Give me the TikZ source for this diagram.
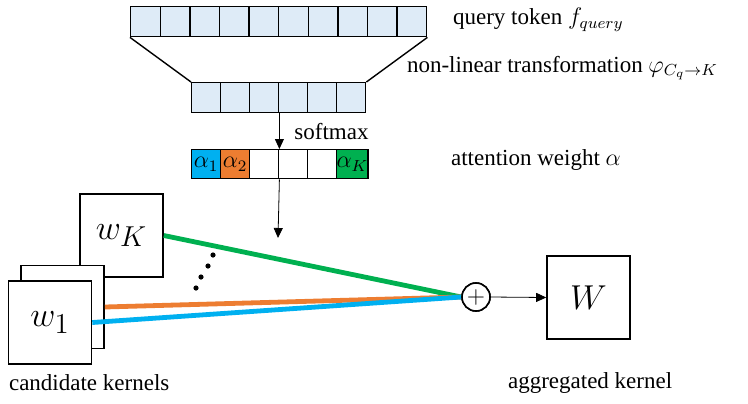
\documentclass[tikz,border=0pt]{standalone}
\usepackage{amsmath}
\usepackage{fontspec}
\setmainfont{Liberation Serif}
\usepackage{tikz}
\usetikzlibrary{arrows.meta,positioning,calc}
\usepackage{xcolor}
\definecolor{cellblue}{RGB}{222,235,247}
\definecolor{alphablue}{RGB}{0,176,240}
\definecolor{alphaorange}{RGB}{237,125,49}
\definecolor{alphagreen}{RGB}{0,176,80}

\begin{document}
\begin{tikzpicture}[x=0.5pt,y=0.5pt,font=\fontsize{11.5}{13}\selectfont,>={Triangle[length=5pt,width=4.5pt]},
  cell/.style={draw,line width=0.7pt,minimum width=14.5pt,minimum height=15pt,inner sep=0pt,anchor=north west,fill=cellblue},
  kernel/.style={draw,line width=0.8pt,fill=white,minimum size=41.5pt,inner sep=0pt,font=\fontsize{19}{21}\selectfont},
  mix/.style={line width=2.4pt}]
  \useasboundingbox (0,0) rectangle (748,403);
  % query token and transformed token
  \foreach \i in {0,...,9}
    \node[cell,minimum width=14.8pt] (q\i) at (130+29.6*\i,397) {};
  \foreach \i in {0,...,5}
    \node[cell] (h\i) at (191+29*\i,321) {};
  \draw[line width=0.7pt] (q0.south west) -- (h0.north west);
  \draw[line width=0.7pt] (q9.south east) -- (h5.north east);
  % attention weights
  \foreach \i/\c/\t in {0/alphablue/$\alpha_1$,1/alphaorange/$\alpha_2$,2/white/,3/white/,4/white/,5/alphagreen/$\alpha_K$}
    \node[cell,fill=\c,minimum height=14.5pt,font=\large] (a\i) at (191+29*\i,254) {\t};
  \draw[->] (h2.south east) -- (a2.north east) node[midway,right=4pt] {softmax};
  \coordinate (tip) at (278,165);
  \draw[->] (a2.south east) -- (tip);
  % candidate kernels
  \node[kernel] (wK) at (121.5,167.5) {$w_K$};
  \node[kernel] (wb) at (62.5,96) {};
  \node[kernel] (w1) at (50,80.5) {$w_1$};
  \foreach \p in {(196,115),(201,126),(208,137),(213,148)}
    \fill \p circle (1.3pt);
  % aggregation
  \node[draw,circle,line width=0.8pt,minimum size=14pt,inner sep=0pt] (plus) at (476,106) {};
  \draw[mix,alphagreen] (wK.east) -- (plus.west);
  \draw[mix,alphaorange] (wb.east) -- (plus.west);
  \draw[mix,alphablue] (w1.east) -- (plus.west);
  \node[draw,circle,line width=0.8pt,fill=white,minimum size=14pt,inner sep=0pt,font=\large] at (plus) {$+$};
  \node[kernel] (W) at (588.5,105.5) {$W$};
  \draw[->] (plus.east) -- (W.west);
  % labels
  \node[anchor=west] (lq) at (446,383) {query token $f_{query}$};
  \node[anchor=west] (lt) at (400,335) {non-linear transformation $\varphi_{C_q\to K}$};
  \node[anchor=west] (la) at (444,243) {attention weight $\alpha$};
  \node[anchor=west] (lc) at (2,20) {candidate kernels};
  \node[anchor=west] (lg) at (501,20) {aggregated kernel};
\end{tikzpicture}
\end{document}
